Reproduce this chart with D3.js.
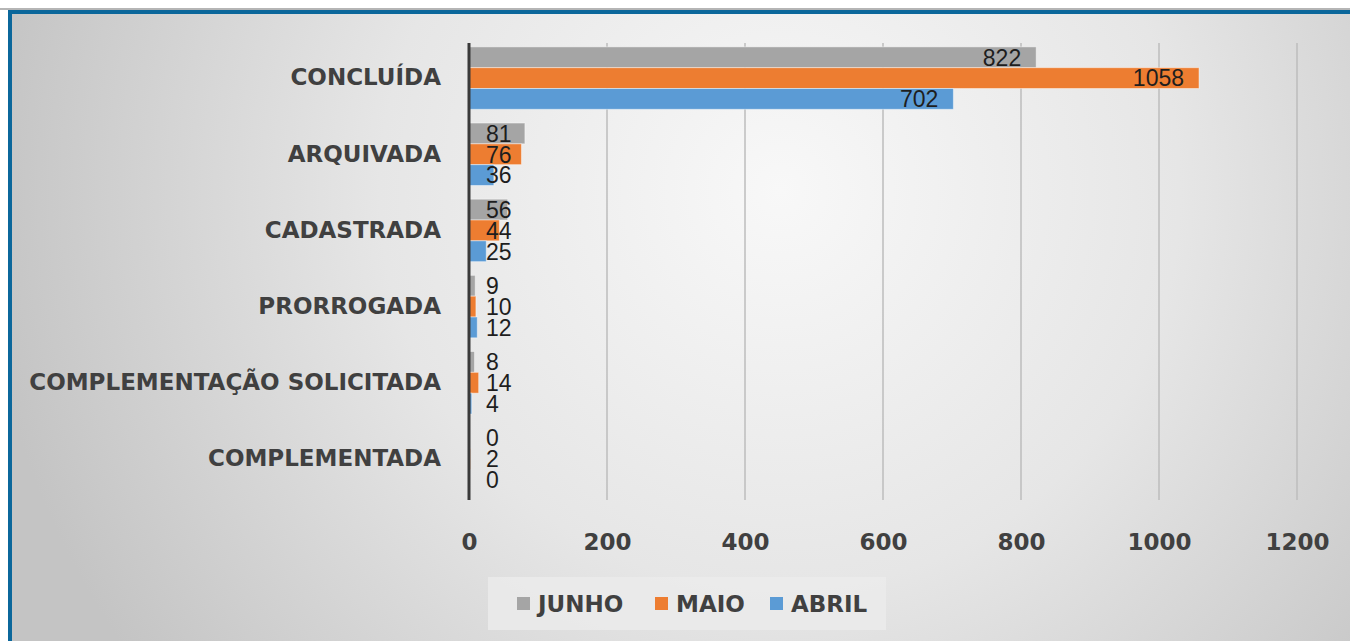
<!DOCTYPE html>
<html>
<head>
<meta charset="utf-8">
<script src="https://cdn.jsdelivr.net/npm/d3@7"></script>
<style>
  html, body { margin: 0; padding: 0; background: #fff; }
  svg { display: block; }
</style>
</head>
<body>
<svg id="chart" width="1350" height="641"></svg>
<script>
// data
const categories = ["CONCLUÍDA", "ARQUIVADA", "CADASTRADA", "PRORROGADA", "COMPLEMENTAÇÃO SOLICITADA", "COMPLEMENTADA"];
const seriesNames = ["JUNHO", "MAIO", "ABRIL"];
const junho = [822, 81, 56, 9, 8, 0];
const maio = [1058, 76, 44, 10, 14, 2];
const abril = [702, 36, 25, 12, 4, 0];
const xTicks = [0, 200, 400, 600, 800, 1000, 1200];

const colors = { JUNHO: "#a5a5a5", MAIO: "#ed7d31", ABRIL: "#5b9bd5" };
const seriesValues = { JUNHO: junho, MAIO: maio, ABRIL: abril };

const svg = d3.select("#chart");
const W = 1350, H = 641;

// ---- background / frame ----
const defs = svg.append("defs");
const grad = defs.append("radialGradient")
  .attr("id", "bg")
  .attr("gradientUnits", "userSpaceOnUse")
  .attr("cx", 780).attr("cy", 190).attr("r", 800);
grad.append("stop").attr("offset", "0").attr("stop-color", "#f8f8f8");
grad.append("stop").attr("offset", "0.5").attr("stop-color", "#e6e6e6");
grad.append("stop").attr("offset", "1").attr("stop-color", "#c4c4c4");

svg.append("rect").attr("x", 0).attr("y", 8).attr("width", W).attr("height", 2).attr("fill", "#b5b5b5");
svg.append("rect").attr("x", 8).attr("y", 10).attr("width", W - 8).attr("height", H - 10).attr("fill", "#0b679b");
svg.append("rect").attr("x", 12).attr("y", 14).attr("width", W - 12).attr("height", H - 14).attr("fill", "url(#bg)");

// ---- scales ----
const x = d3.scaleLinear().domain([0, 1200]).range([469, 1297]);
const y = d3.scaleBand().domain(categories).range([40, 497]).paddingInner(0.18).paddingOuter(0.09);
const ySub = d3.scaleBand().domain(seriesNames).range([0, y.bandwidth()]);

const plotTop = 43, plotBottom = 500;

// gridlines
svg.append("g").selectAll("line")
  .data(xTicks.slice(1))
  .join("line")
  .attr("x1", d => x(d)).attr("x2", d => x(d))
  .attr("y1", plotTop).attr("y2", plotBottom)
  .attr("stroke", "#bdbdbd").attr("stroke-width", 1.5);

// bars
const groups = svg.append("g").selectAll("g")
  .data(categories)
  .join("g")
  .attr("transform", d => `translate(0,${y(d)})`);

groups.selectAll("rect")
  .data((c, i) => seriesNames.map(s => ({ s, v: seriesValues[s][i] })))
  .join("rect")
  .attr("x", x(0))
  .attr("y", d => ySub(d.s))
  .attr("width", d => x(d.v) - x(0))
  .attr("height", ySub.bandwidth())
  .attr("fill", d => colors[d.s])
  .attr("stroke", "rgba(255,255,255,0.45)")
  .attr("stroke-width", 1);

// value labels (inside end, pushed right of the axis for short bars)
const labelFont = "'Liberation Sans', Arial, sans-serif";
groups.selectAll("text")
  .data((c, i) => seriesNames.map(s => ({ s, v: seriesValues[s][i] })))
  .join("text")
  .attr("y", d => ySub(d.s) + ySub.bandwidth() / 2)
  .attr("dy", "0.36em")
  .attr("text-anchor", "end")
  .attr("font-family", labelFont)
  .attr("font-size", 23)
  .attr("fill", "#1e1e1e")
  .text(d => d.v)
  .attr("x", function (d) {
    const w = this.getComputedTextLength();
    return Math.max(x(d.v) - 15, x(0) + 17 + w);
  });

// y axis (category labels)
const catFont = "'DejaVu Sans', sans-serif";
const yAxis = svg.append("g")
  .attr("transform", `translate(${x(0)},0)`)
  .call(d3.axisLeft(y).tickSize(0).tickPadding(28));
yAxis.select(".domain").remove();
yAxis.selectAll("text")
  .attr("font-family", catFont)
  .attr("font-weight", "bold")
  .attr("font-size", 23)
  .attr("fill", "#404040");

// axis line
svg.append("line")
  .attr("x1", x(0)).attr("x2", x(0))
  .attr("y1", plotTop).attr("y2", plotBottom)
  .attr("stroke", "#3a3a3a").attr("stroke-width", 3);

// x axis tick labels
const xAxis = svg.append("g")
  .attr("transform", `translate(0,${plotBottom})`)
  .call(d3.axisBottom(x).tickValues(xTicks).tickFormat(d3.format("d")).tickSize(0).tickPadding(34));
xAxis.select(".domain").remove();
xAxis.selectAll("text")
  .attr("font-family", catFont)
  .attr("font-weight", "bold")
  .attr("font-size", 23)
  .attr("fill", "#404040");

// legend
const legend = svg.append("g");
legend.append("rect")
  .attr("x", 488).attr("y", 577).attr("width", 398).attr("height", 53)
  .attr("fill", "#ebebeb").attr("opacity", 0.85);
const legendX = [517, 655, 770];
seriesNames.forEach((s, i) => {
  legend.append("rect")
    .attr("x", legendX[i]).attr("y", 597)
    .attr("width", 13).attr("height", 13)
    .attr("fill", colors[s]);
  legend.append("text")
    .attr("x", legendX[i] + 21).attr("y", 604)
    .attr("dy", "0.36em")
    .attr("font-family", catFont)
    .attr("font-weight", "bold")
    .attr("font-size", 23)
    .attr("fill", "#404040")
    .text(s);
});
</script>
</body>
</html>
